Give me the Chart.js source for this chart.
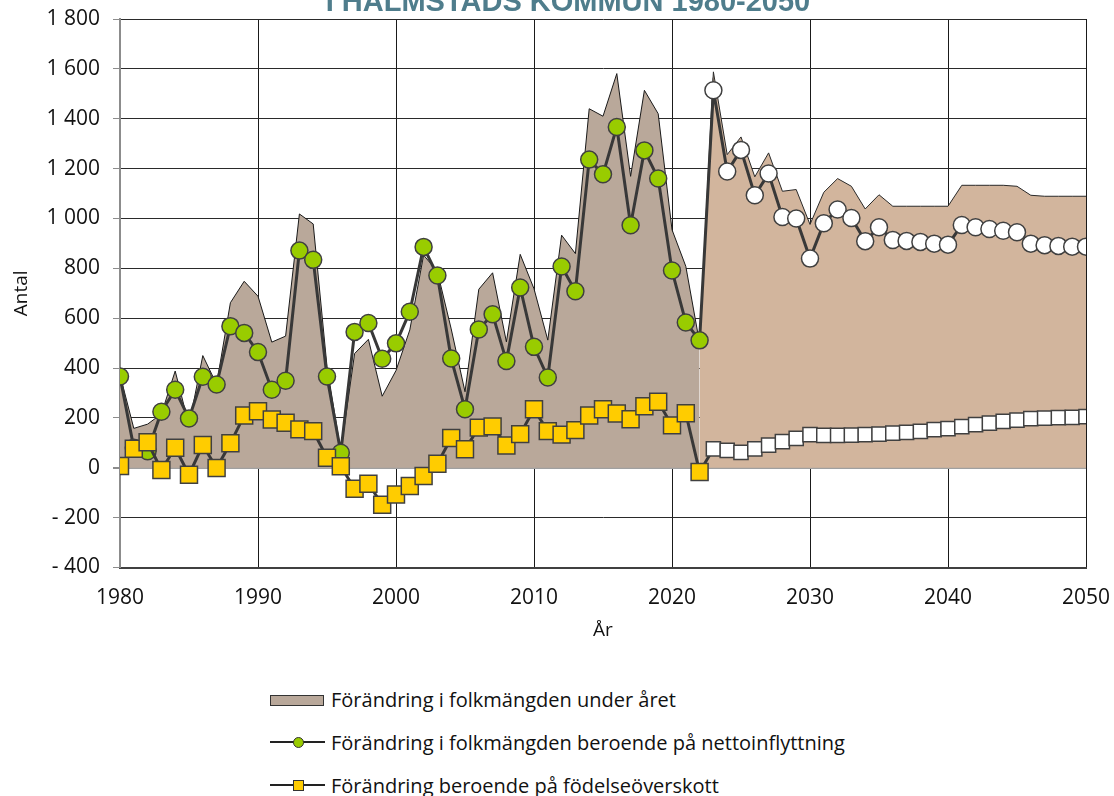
<!DOCTYPE html>
<html>
<head>
<meta charset="utf-8">
<script src="https://cdn.jsdelivr.net/npm/chart.js@4"></script>
<style>
  body { margin: 0; background: #fff; font-family: 'Open Sans', sans-serif; }
  #wrap { position: relative; width: 1114px; height: 796px; overflow: hidden; }
  #chart { position: absolute; left: 0; top: 0; }
  .legend { position: absolute; left: 270px; top: 678px; color: #111; font-size: 20px; }
  .row { position: relative; height: 43px; }
  .row span { position: absolute; left: 61px; top: 8px; white-space: nowrap; }
  .swatch { position: absolute; left: 0; top: 17px; width: 52px; height: 9px; background: #b9a89a; border: 1px solid #333; }
  .ln { position: absolute; left: 0; top: 20px; width: 55px; height: 2px; background: #222; }
  .dot { position: absolute; left: 23px; top: 16px; width: 9px; height: 9px; border: 1px solid #333; }
</style>
</head>
<body>
<div id="wrap">
  <canvas id="chart" width="1114" height="650"></canvas>
  <div class="legend">
    <div class="row"><div class="swatch"></div><span>Förändring i folkmängden under året</span></div>
    <div class="row"><div class="ln"></div><div class="dot" style="background:#99cc00;border-radius:50%"></div><span>Förändring i folkmängden beroende på nettoinflyttning</span></div>
    <div class="row"><div class="ln"></div><div class="dot" style="background:#ffcc00"></div><span>Förändring beroende på födelseöverskott</span></div>
  </div>
</div>
<script>
// utfall 1980-2022, prognos 2023-2050
const histYears = [];
for (let y = 1980; y <= 2022; y++) histYears.push(y);
const progYears = [];
for (let y = 2023; y <= 2050; y++) progYears.push(y);

const totalHist = [373, 158, 175, 216, 388, 170, 450, 335, 662, 748,
    688, 504, 528, 1018, 978, 406, 66, 458, 515, 287,
    390, 553, 853, 787, 557, 305, 716, 782, 505, 856,
    718, 512, 933, 859, 1440, 1410, 1581, 1169, 1514, 1420,
    955, 808, 500];
// prognosytan börjar vid 2022
const totalProg = [500, 1588, 1256, 1327, 1167, 1263, 1109, 1116, 976, 1105,
    1160, 1129, 1038, 1095, 1049, 1049, 1049, 1049, 1049, 1133,
    1133, 1133, 1133, 1129, 1093, 1089, 1089, 1089, 1089];

const flyttHist = [366, 80, 66, 225, 313, 198, 365, 334, 568, 541,
    464, 313, 349, 871, 834, 366, 60, 545, 581, 437,
    499, 626, 886, 771, 438, 235, 555, 616, 428, 723,
    485, 362, 807, 708, 1236, 1177, 1367, 973, 1273, 1160,
    791, 583, 511];
const flyttProg = [1514, 1188, 1275, 1093, 1180, 1006, 1000, 839, 981, 1036,
    1002, 909, 965, 914, 910, 906, 899, 895, 974, 965,
    958, 951, 945, 899, 893, 890, 887, 887];

const fodHist = [7, 76, 102, -9, 80, -28, 91, -1, 98, 210,
    227, 194, 181, 154, 147, 40, 6, -84, -64, -148,
    -107, -73, -33, 16, 119, 74, 161, 166, 89, 135,
    235, 147, 133, 151, 210, 235, 218, 195, 247, 265,
    170, 219, -17];
const fodProg = [76, 70, 62, 76, 91, 105, 118, 133, 130, 130,
    131, 133, 135, 139, 142, 146, 153, 157, 165, 173,
    179, 186, 191, 197, 199, 201, 202, 205];

const yMin = -400, yMax = 1800, yStep = 200;
const xMin = 1980, xMax = 2050, xStep = 10;

const FONT = "'Open Sans', sans-serif";

function pts(years, vals) {
    return vals.map((v, i) => ({ x: years[i], y: v }));
}
const allYears = histYears.concat(progYears);

function fmt(v) {
    const s = Math.abs(v).toString().replace(/\B(?=(\d{3})+(?!\d))/g, ' ');
    return v < 0 ? '- ' + s : s;
}

const titlePlugin = {
    id: 'topTitle',
    afterDraw(chart) {
        const c = chart.ctx;
        c.save();
        c.font = "bold 29px 'Liberation Sans', sans-serif";
        c.fillStyle = '#4f7d8c';
        c.textAlign = 'center';
        c.textBaseline = 'alphabetic';
        c.fillText('I HALMSTADS KOMMUN 1980-2050', 568, 11);
        c.restore();
    }
};

const nHist = histYears.length;

new Chart(document.getElementById('chart'), {
    type: 'line',
    data: {
        datasets: [
            {
                label: 'Förändring beroende på födelseöverskott',
                data: pts(allYears, fodHist.concat(fodProg)),
                borderColor: '#383838',
                borderWidth: 3,
                pointStyle: 'rect',
                pointRadius: allYears.map((y, i) => i < nHist ? 12 : 10),
                pointBackgroundColor: allYears.map((y, i) => i < nHist ? '#ffcc00' : '#ffffff'),
                pointBorderColor: '#404040',
                pointBorderWidth: 1.5,
                fill: false,
                order: 0
            },
            {
                label: 'Förändring i folkmängden beroende på nettoinflyttning',
                data: pts(allYears, flyttHist.concat(flyttProg)),
                borderColor: '#383838',
                borderWidth: 3,
                pointStyle: 'circle',
                pointRadius: 8.5,
                pointBackgroundColor: allYears.map((y, i) => i < nHist ? '#99cc00' : '#ffffff'),
                pointBorderColor: '#404040',
                pointBorderWidth: 1.5,
                fill: false,
                order: 1
            },
            {
                label: 'Förändring i folkmängden under året',
                data: pts(histYears, totalHist),
                borderColor: '#1a1a1a',
                borderWidth: 1,
                backgroundColor: '#b9a89a',
                pointRadius: 0,
                fill: 'origin',
                order: 2
            },
            {
                label: 'Prognos',
                data: pts([2022].concat(progYears), totalProg),
                borderColor: '#2a2a2a',
                borderWidth: 1,
                backgroundColor: '#d2b59d',
                pointRadius: 0,
                fill: 'origin',
                order: 3
            }
        ]
    },
    options: {
        responsive: false,
        animation: false,
        layout: { padding: { left: 0, right: 28, top: 19, bottom: 0 } },
        plugins: {
            legend: { display: false },
            tooltip: { enabled: false }
        },
        scales: {
            x: {
                type: 'linear',
                min: xMin,
                max: xMax,
                afterFit(scale) {
                    scale.height = 82.5;
                    scale.paddingLeft = 0;
                    scale.paddingRight = 0;
                },
                ticks: {
                    stepSize: xStep,
                    padding: 18,
                    color: '#111',
                    font: { family: FONT, size: 21 },
                    callback: v => String(v)
                },
                grid: { color: '#1a1a1a', lineWidth: 1, drawTicks: false },
                border: { color: '#404040', width: 2 },
                title: {
                    display: true,
                    text: 'År',
                    color: '#111',
                    font: { family: FONT, size: 19 },
                    padding: { top: 0, bottom: 8 }
                }
            },
            y: {
                min: yMin,
                max: yMax,
                afterFit(scale) {
                    scale.width = 120;
                    scale.paddingTop = 0;
                    scale.paddingBottom = 0;
                },
                ticks: {
                    stepSize: yStep,
                    padding: 13,
                    color: '#111',
                    font: { family: FONT, size: 21 },
                    callback: v => fmt(v)
                },
                grid: {
                    color: ctx => ctx.tick && ctx.tick.value === 0 ? '#a0a0a0' : '#2a2a2a',
                    lineWidth: ctx => ctx.tick && ctx.tick.value === 0 ? 2 : 1,
                    tickColor: '#8c8c8c',
                    tickLength: 7
                },
                border: { color: '#8c8c8c', width: 2 },
                title: {
                    display: true,
                    text: 'Antal',
                    color: '#111',
                    font: { family: FONT, size: 19 },
                    padding: { top: 10, bottom: 0 }
                }
            }
        }
    },
    plugins: [titlePlugin]
});
</script>
</body>
</html>
